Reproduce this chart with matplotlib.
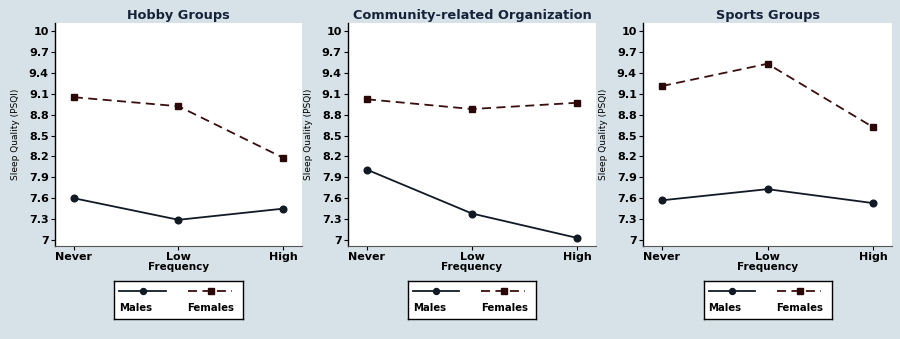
import matplotlib
matplotlib.use("Agg")
import matplotlib.pyplot as plt

# data
freq_labels = ["Never", "Low", "High"]
panel_titles = ["Hobby Groups", "Community-related Organization", "Sports Groups"]
males = [
    [7.60, 7.29, 7.45],
    [8.01, 7.38, 7.03],
    [7.57, 7.73, 7.53],
]
females = [
    [9.05, 8.92, 8.18],
    [9.02, 8.88, 8.97],
    [9.21, 9.53, 8.62],
]
y_ticks = [7, 7.3, 7.6, 7.9, 8.2, 8.5, 8.8, 9.1, 9.4, 9.7, 10]
y_ticklabels = ["7", "7.3", "7.6", "7.9", "8.2", "8.5", "8.8", "9.1", "9.4", "9.7", "10"]

BG = "#d6e2e8"
MALE_C = "#111a24"
FEMALE_C = "#3a0e0e"
TITLE_C = "#152238"
FONT = "DejaVu Sans"

W, H = 900, 339
fig = plt.figure(figsize=(W / 100, H / 100), dpi=100, facecolor=BG)

# axes boxes in pixels: left, right, top, bottom
boxes = [(55, 302), (348, 596), (643, 892)]
top_px, bot_px = 23, 246


def px_rect(x0, x1, y0, y1):
    return [x0 / W, 1 - y1 / H, (x1 - x0) / W, (y1 - y0) / H]


for i, (x0, x1) in enumerate(boxes):
    ax = fig.add_axes(px_rect(x0, x1, top_px, bot_px))
    ax.set_facecolor("white")
    xs = range(len(freq_labels))
    ax.plot(xs, males[i], color=MALE_C, lw=1.3, marker="o", ms=4.8, zorder=3)
    ax.plot(xs, females[i], color=FEMALE_C, lw=1.3, ls=(0, (5, 3)),
            marker="s", ms=4.8, mfc="#2a0808", mec="#2a0808", zorder=3)
    ax.set_xlim(-0.18, 2.18)
    ax.set_ylim(6.914, 10.115)
    ax.set_yticks(y_ticks)
    ax.set_yticklabels(y_ticklabels, fontsize=8, fontweight="bold", family=FONT)
    ax.set_xticks(list(xs))
    ax.set_xticklabels(freq_labels, fontsize=8, fontweight="bold", family=FONT)
    ax.tick_params(axis="both", length=3, width=0.8, pad=1.5, colors="black")
    for s in ("top", "right"):
        ax.spines[s].set_visible(False)
    ax.spines["left"].set_linewidth(1.0)
    ax.spines["bottom"].set_linewidth(0.8)
    ax.spines["bottom"].set_color("#555555")
    ax.set_title(panel_titles[i], fontsize=9.3, fontweight="bold", family=FONT,
                 color=TITLE_C, pad=3)
    ax.set_xlabel("Frequency", fontsize=7.5, fontweight="bold", family=FONT,
                  labelpad=0)
    ax.set_ylabel("Sleep Quality (PSQI)", fontsize=6.5, family=FONT, labelpad=6)

    # Stata style legend: keys above labels
    cx = (x0 + x1) / 2
    lx0, lx1 = cx - 64, cx + 64
    lax = fig.add_axes(px_rect(lx0, lx1, 281, 319))
    lax.set_xlim(0, 128)
    lax.set_ylim(38, 0)
    lax.set_facecolor("white")
    lax.set_xticks([])
    lax.set_yticks([])
    for s in lax.spines.values():
        s.set_linewidth(1.0)
        s.set_color("black")
    lax.plot([5, 51], [10, 10], color=MALE_C, lw=1.3)
    lax.plot([28], [10], color=MALE_C, marker="o", ms=4.3)
    lax.plot([73, 117], [10, 10], color=FEMALE_C, lw=1.3, ls=(0, (5, 3)))
    lax.plot([96], [10], color="#2a0808", marker="s", ms=4.3)
    lax.text(5, 27, "Males", fontsize=7.3, fontweight="bold", family=FONT,
             ha="left", va="center")
    lax.text(73, 27, "Females", fontsize=7.3, fontweight="bold", family=FONT,
             ha="left", va="center")

fig.savefig("out.png", dpi=100, facecolor=BG)
